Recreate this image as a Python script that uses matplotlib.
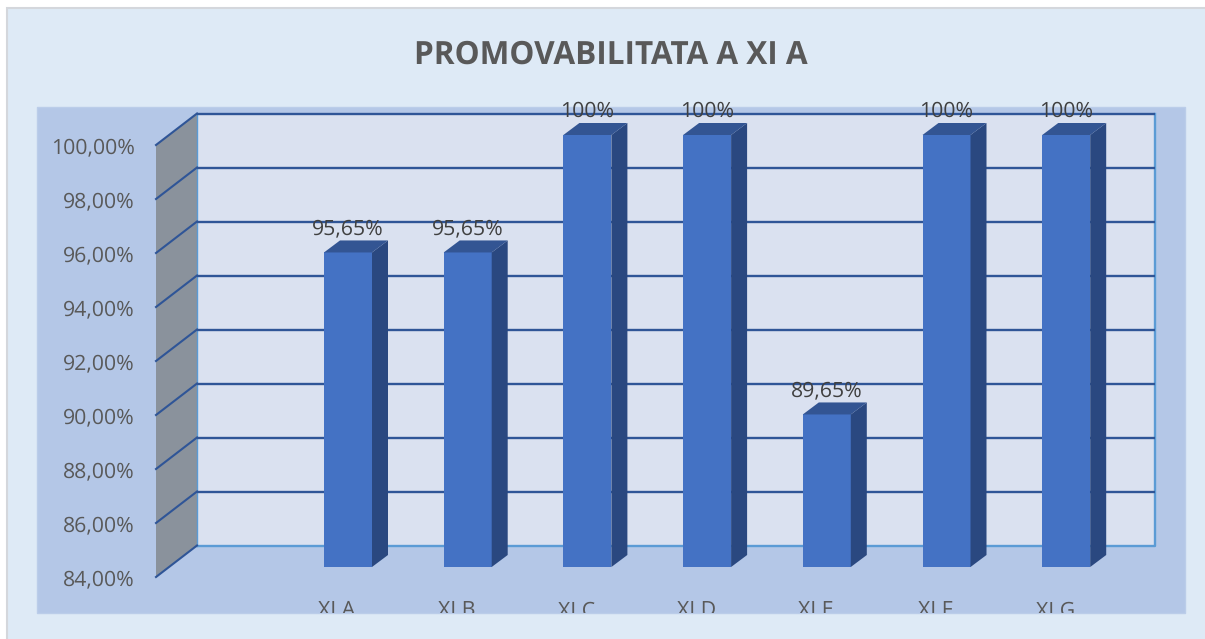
import matplotlib
matplotlib.use("Agg")
import matplotlib.pyplot as plt
from matplotlib.patches import Polygon, Rectangle

plt.rcParams["font.family"] = ["Open Sans", "DejaVu Sans"]
plt.rcParams["text.hinting"] = "none"

classes = ["XI A", "XI B", "XI C", "XI D", "XI E", "XI F", "XI G"]
promovare = [95.65, 95.65, 100, 100, 89.65, 100, 100]
etichete = ["95,65%", "95,65%", "100%", "100%", "89,65%", "100%", "100%"]
y_ticks = [84, 86, 88, 90, 92, 94, 96, 98, 100]
y_labels = ["84,00%", "86,00%", "88,00%", "90,00%", "92,00%", "94,00%", "96,00%", "98,00%", "100,00%"]

W, H = 1205, 639
PX_X = 119.7  # pixels per category
PX_Y = 27.0  # pixels per percent


def frac_box(x0, y0, x1, y1):
    """Pixel box, measured from the top left, to figure fractions"""
    return x0 / W, 1 - y1 / H, (x1 - x0) / W, (y1 - y0) / H


fig = plt.figure(figsize=(W / 100, H / 100), dpi=100, facecolor="white")

# chart background and the plot band behind the 3D box
fig.add_artist(Rectangle((6.5 / W, -0.02), 1.02, 1.02 - 7.5 / H, transform=fig.transFigure,
                         facecolor="#DEEAF6", edgecolor="#D4D7DC", linewidth=1.5, zorder=-2))
x0, y0, bw, bh = frac_box(37, 107, 1184.5, 613)
band = Rectangle((x0, y0), bw, bh, transform=fig.transFigure,
                 facecolor="#B4C7E7", edgecolor="#BBCDE9", linewidth=1, zorder=-1)
fig.add_artist(band)

ax = fig.add_axes(frac_box(156, 145, 1114, 577))
ax.patch.set_visible(False)
for side in ax.spines.values():
    side.set_visible(False)
ax.set_xlim(-192 / PX_X, 766 / PX_X)
ax.set_ylim(84, 100)
ax.set_yticks(y_ticks, y_labels, fontsize=15.3, color="#595959")
ax.set_xticks([])
ax.tick_params(axis="y", length=0, pad=15.5)

left, right = ax.get_xlim()
# depth of the box and of the bars, in data units
wall_dx, wall_dy = 41 / PX_X, 31.5 / PX_Y
bar_dy = 10 / PX_Y
side_dx, side_dy = 16 / PX_X, 12 / PX_Y
bar_w = 48 / PX_X

# back wall
ax.add_patch(Polygon([(left + wall_dx, 84 + wall_dy), (right + wall_dx, 84 + wall_dy),
                      (right + wall_dx, 100 + wall_dy), (left + wall_dx, 100 + wall_dy)],
                     facecolor="#DAE1F0", edgecolor="none", clip_on=False, zorder=1))
# side wall
ax.add_patch(Polygon([(left, 84), (left + wall_dx, 84 + wall_dy),
                      (left + wall_dx, 100 + wall_dy), (left, 100)],
                     facecolor="#8A929C", edgecolor="none", clip_on=False, zorder=1))

# light blue frame of the wall
ax.plot([left + wall_dx, right + wall_dx, right + wall_dx], [84 + wall_dy, 84 + wall_dy, 100 + wall_dy],
        color="#5B9BD5", lw=1.7, clip_on=False, zorder=2)
ax.plot([left + wall_dx, left + wall_dx], [84 + wall_dy, 100 + wall_dy],
        color="#5B9BD5", lw=1, clip_on=False, zorder=2)

# gridlines run along the side wall and then the back wall
for v in y_ticks:
    if v > 84:
        ax.plot([left + wall_dx, right + wall_dx], [v + wall_dy, v + wall_dy],
                color="#2F5597", lw=1.7, clip_on=False, zorder=2, solid_capstyle="butt")
    ax.plot([left, left + wall_dx], [v, v + wall_dy],
            color="#2F5597", lw=1.5, clip_on=False, zorder=2)

# bars: front face, then side and top
ax.bar(range(len(classes)), [v - 84 for v in promovare], bottom=84 + bar_dy, width=bar_w,
       color="#4472C4", clip_on=False, zorder=3)
for i, v in enumerate(promovare):
    xr = i + bar_w / 2
    xl = i - bar_w / 2
    low = 84 + bar_dy
    top = v + bar_dy
    ax.add_patch(Polygon([(xr, low), (xr + side_dx, low + side_dy),
                          (xr + side_dx, top + side_dy), (xr, top)],
                         facecolor="#2A4880", edgecolor="none", clip_on=False, zorder=3))
    ax.add_patch(Polygon([(xl, top), (xr, top), (xr + side_dx, top + side_dy),
                          (xl + side_dx, top + side_dy)],
                         facecolor="#335593", edgecolor="none", clip_on=False, zorder=3))
    ax.text(i, top + 23.5 / PX_Y, etichete[i], ha="center", va="center", fontsize=15.3,
            color="#404040", clip_on=False, zorder=4)
    # category labels get cut by the lower edge of the band
    t = ax.text(i - 11 / PX_X, 84 - 34 / PX_Y, classes[i], ha="center", va="center",
                fontsize=15.3, color="#595959", zorder=4)
    t.set_clip_path(band)
    t.set_clip_on(True)

fig.text(611 / W, 1 - 55 / H, "PROMOVABILITATA A XI A", ha="center", va="center",
         fontsize=22.7, fontweight="bold", color="#595959")

fig.savefig("out.png", dpi=100, facecolor=fig.get_facecolor())
